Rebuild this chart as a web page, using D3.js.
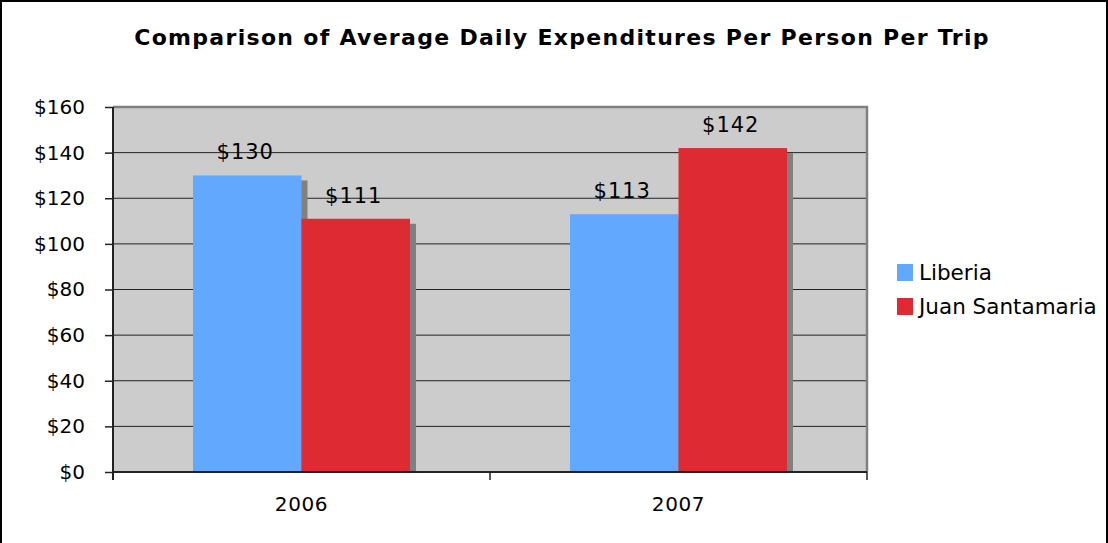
<!DOCTYPE html>
<html>
<head>
<meta charset="utf-8">
<script src="https://cdn.jsdelivr.net/npm/d3@7"></script>
<style>
  body { margin: 0; background: #fff; }
  text { font-family: "DejaVu Sans", Verdana, sans-serif; fill: #000; }
</style>
</head>
<body>
<svg id="chart"></svg>
<script>
// chart data
const years = ["2006", "2007"];
const seriesNames = ["Liberia", "Juan Santamaria"];
const liberia = [130, 113];
const juanSantamaria = [111, 142];
const yTicks = [0, 20, 40, 60, 80, 100, 120, 140, 160];
const colors = ["#62a8ff", "#de2b33"];

const width = 1108, height = 543;
const svg = d3.select("#chart")
    .attr("width", width)
    .attr("height", height);

// outer frame
svg.append("rect")
    .attr("x", 1).attr("y", 1)
    .attr("width", width - 2).attr("height", height + 4)
    .attr("fill", "#fff")
    .attr("stroke", "#000")
    .attr("stroke-width", 2);

// title
svg.append("text")
    .attr("x", 562)
    .attr("y", 45)
    .attr("text-anchor", "middle")
    .attr("font-weight", "bold")
    .attr("font-size", 22)
    .attr("letter-spacing", 1.3)
    .text("Comparison of Average Daily Expenditures Per Person Per Trip");

const plot = { left: 113, right: 867, top: 107, bottom: 472 };

const x0 = d3.scaleBand()
    .domain(years)
    .range([plot.left, plot.right])
    .paddingInner(0.4244)
    .paddingOuter(0.2122);

const x1 = d3.scaleBand()
    .domain(seriesNames)
    .range([0, x0.bandwidth()]);

const y = d3.scaleLinear()
    .domain([0, 160])
    .range([plot.bottom, plot.top]);

// plot background
svg.append("rect")
    .attr("x", plot.left).attr("y", plot.top)
    .attr("width", plot.right - plot.left)
    .attr("height", plot.bottom - plot.top)
    .attr("fill", "#cccccc");

// gridlines
svg.append("g")
    .selectAll("line")
    .data(yTicks.filter(d => d > 0 && d < 160))
    .join("line")
    .attr("x1", plot.left).attr("x2", plot.right)
    .attr("y1", d => y(d)).attr("y2", d => y(d))
    .attr("stroke", "#222")
    .attr("stroke-width", 1);

// plot border (top / right)
svg.append("path")
    .attr("d", `M${plot.left},${plot.top}H${plot.right}V${plot.bottom}`)
    .attr("fill", "none")
    .attr("stroke", "#808080")
    .attr("stroke-width", 2.5);

const rows = years.map((yr, i) => ({
    year: yr,
    values: [
        { name: seriesNames[0], value: liberia[i], color: colors[0] },
        { name: seriesNames[1], value: juanSantamaria[i], color: colors[1] }
    ]
}));

const groups = svg.append("g")
    .selectAll("g")
    .data(rows)
    .join("g")
    .attr("transform", d => `translate(${x0(d.year)},0)`);

// shadows first, then bars
groups.selectAll("rect.shadow")
    .data(d => d.values)
    .join("rect")
    .attr("class", "shadow")
    .attr("x", d => x1(d.name) + 6)
    .attr("y", d => y(d.value) + 5)
    .attr("width", x1.bandwidth())
    .attr("height", d => plot.bottom - y(d.value) - 5)
    .attr("fill", "#808080");

groups.selectAll("rect.bar")
    .data(d => d.values)
    .join("rect")
    .attr("class", "bar")
    .attr("x", d => x1(d.name))
    .attr("y", d => y(d.value))
    .attr("width", x1.bandwidth())
    .attr("height", d => plot.bottom - y(d.value))
    .attr("fill", d => d.color);

groups.selectAll("text.lbl")
    .data(d => d.values)
    .join("text")
    .attr("class", "lbl")
    .attr("x", d => x1(d.name) + x1.bandwidth() / 2 - 2)
    .attr("y", d => y(d.value) - 16)
    .attr("text-anchor", "middle")
    .attr("font-size", 21)
    .attr("letter-spacing", 1)
    .text(d => "$" + d.value);

// y axis
const yAxis = svg.append("g")
    .attr("transform", `translate(${plot.left},0)`)
    .call(d3.axisLeft(y).tickValues(yTicks).tickSize(8).tickPadding(20)
        .tickFormat(d => "$" + d));
yAxis.select(".domain").attr("stroke", "#222").attr("stroke-width", 2)
    .attr("d", `M0,${plot.top}V${plot.bottom + 8}`);
yAxis.selectAll(".tick line").attr("stroke", "#222").attr("stroke-width", 1.5);
yAxis.selectAll(".tick text")
    .attr("font-size", 20)
    .attr("font-family", "DejaVu Sans, Verdana, sans-serif")
    .attr("fill", "#000");

// x axis
const xAxis = svg.append("g")
    .attr("transform", `translate(0,${plot.bottom})`)
    .call(d3.axisBottom(x0).tickSize(0).tickPadding(25));
xAxis.select(".domain").attr("stroke", "#222").attr("stroke-width", 2)
    .attr("d", `M${plot.left},0H${plot.right}`);
xAxis.selectAll(".tick text")
    .attr("font-size", 20)
    .attr("letter-spacing", 0.6)
    .attr("font-family", "DejaVu Sans, Verdana, sans-serif")
    .attr("fill", "#000");

// category boundary ticks
const bounds = [plot.left, plot.left + x0.step(), plot.right];
svg.append("g")
    .selectAll("line")
    .data(bounds)
    .join("line")
    .attr("x1", d => d).attr("x2", d => d)
    .attr("y1", plot.bottom).attr("y2", plot.bottom + 8)
    .attr("stroke", "#222")
    .attr("stroke-width", 1.5);

// legend
const legend = svg.append("g")
    .selectAll("g")
    .data(seriesNames)
    .join("g")
    .attr("transform", (d, i) => `translate(897,${264 + i * 34})`);

legend.append("rect")
    .attr("width", 16).attr("height", 17)
    .attr("fill", (d, i) => colors[i]);

legend.append("text")
    .attr("x", 22)
    .attr("y", 16)
    .attr("font-size", 21.5)
    .text(d => d);
</script>
</body>
</html>
